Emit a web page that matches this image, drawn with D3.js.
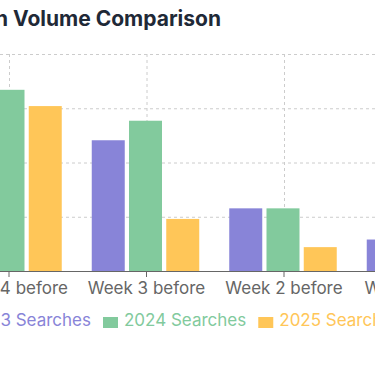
<!DOCTYPE html>
<html>
<head>
<meta charset="utf-8">
<script src="https://cdn.jsdelivr.net/npm/d3@7"></script>
<style>
  html, body { margin: 0; padding: 0; background: #fff; overflow: hidden; }
  svg { display: block; }
  text { font-family: Inter, "Noto Sans", sans-serif; }
</style>
</head>
<body>
<svg id="chart" width="375" height="366"></svg>
<script>
const categories = ["Week 4 before", "Week 3 before", "Week 2 before", "Week 1 before"];
const seriesNames = ["2023 Searches", "2024 Searches", "2025 Searches"];
const seriesColors = ["#8884d8", "#82ca9d", "#ffc658"];
const values2023 = [3100, 2410, 1155, 580];
const values2024 = [3340, 2770, 1155, 700];
const values2025 = [3040, 960, 440, 300];
const yTicks = [0, 1000, 2000, 3000, 4000];
const titleText = "Pre-Halloween Volume Comparison";

const seriesValues = [values2023, values2024, values2025];
const svg = d3.select("#chart");

const plotTop = 54, plotBottom = 271;
const x0 = d3.scaleBand().domain(categories).range([-59.75, -59.75 + 137.5 * categories.length]).padding(0);
const x1 = d3.scaleBand().domain(seriesNames).range([14, 121.5]).paddingInner(0.114).paddingOuter(0);
const y = d3.scaleLinear().domain([0, 4000]).range([plotBottom, plotTop]);

// grid
const grid = svg.append("g").attr("stroke", "#ccc").attr("stroke-dasharray", "3 3").attr("fill", "none");
grid.selectAll("line.h").data(yTicks.filter(t => t > 0)).join("line")
  .attr("x1", 0).attr("x2", 375)
  .attr("y1", d => y(d) + 0.5).attr("y2", d => y(d) + 0.5);
grid.selectAll("line.v").data(categories).join("line")
  .attr("x1", d => x0(d) + x0.bandwidth() / 2 + 0.5).attr("x2", d => x0(d) + x0.bandwidth() / 2 + 0.5)
  .attr("y1", plotTop).attr("y2", plotBottom);

// bars
const rows = [];
categories.forEach((c, i) => seriesNames.forEach((s, j) => rows.push({ c, s, j, v: seriesValues[j][i] })));
svg.append("g").selectAll("rect").data(rows).join("rect")
  .attr("x", d => x0(d.c) + x1(d.s))
  .attr("width", x1.bandwidth())
  .attr("y", d => y(d.v))
  .attr("height", d => y(0) - y(d.v))
  .attr("fill", d => seriesColors[d.j]);

// x axis
const xAxis = d3.axisBottom(x0).tickSize(6).tickSizeOuter(0);
const ax = svg.append("g").attr("transform", `translate(0,${plotBottom})`).call(xAxis);
ax.select(".domain").attr("stroke", "#666");
ax.selectAll(".tick line").attr("stroke", "#666");
ax.selectAll(".tick text").attr("fill", "#666").attr("font-size", 17)
  .attr("font-family", "Inter, sans-serif").attr("y", 23).attr("dy", 0);

// title
svg.append("text").attr("x", 221).attr("y", 26).attr("text-anchor", "end")
  .attr("font-size", 21).attr("font-weight", 700).attr("fill", "#1f2937").text(titleText);

// legend
const lg = svg.append("g");
const items = lg.selectAll("g").data(seriesNames).join("g");
items.append("rect").attr("width", 15).attr("height", 11).attr("y", 317).attr("fill", (d, i) => seriesColors[i]);
items.append("text").attr("x", 21).attr("y", 326).attr("font-size", 17).attr("fill", (d, i) => seriesColors[i]).text(d => d);
const widths = [];
items.each(function () { widths.push(d3.select(this).select("text").node().getComputedTextLength() + 21); });
const gap = 12;
const pos = [];
pos[1] = 103;
pos[0] = pos[1] - gap - widths[0];
pos[2] = pos[1] + widths[1] + gap;
items.attr("transform", (d, i) => `translate(${pos[i]},0)`);
</script>
</body>
</html>
